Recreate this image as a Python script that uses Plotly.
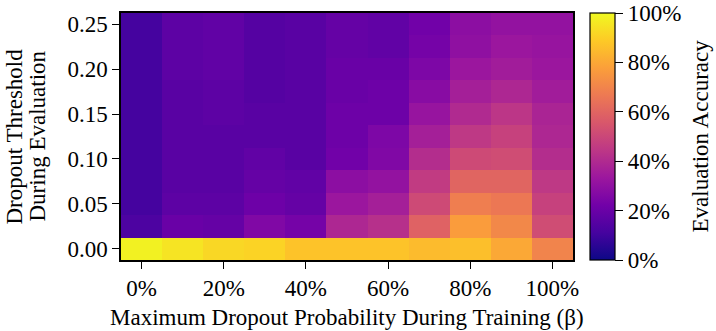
import plotly.graph_objects as go

# Maximum dropout probability used in training (x axis)
beta = [0.0, 0.1, 0.2, 0.3, 0.4, 0.5, 0.6, 0.7, 0.8, 0.9, 1.0]

# Dropout threshold applied at evaluation time (y axis)
threshold = [0.0, 0.025, 0.05, 0.075, 0.1, 0.125, 0.15, 0.175, 0.2, 0.225, 0.25]

# Evaluation accuracy, one row per threshold (bottom to top), one value per beta
acc_t000 = [0.98, 0.95, 0.92, 0.91, 0.87, 0.87, 0.87, 0.85, 0.86, 0.80, 0.70]
acc_t025 = [0.13, 0.20, 0.19, 0.26, 0.23, 0.39, 0.42, 0.59, 0.77, 0.71, 0.52]
acc_t050 = [0.11, 0.17, 0.17, 0.21, 0.19, 0.33, 0.36, 0.51, 0.68, 0.66, 0.48]
acc_t075 = [0.11, 0.16, 0.16, 0.19, 0.18, 0.29, 0.31, 0.46, 0.60, 0.60, 0.45]
acc_t100 = [0.11, 0.16, 0.16, 0.18, 0.16, 0.22, 0.26, 0.41, 0.51, 0.52, 0.41]
acc_t125 = [0.11, 0.16, 0.16, 0.16, 0.16, 0.21, 0.25, 0.36, 0.45, 0.48, 0.39]
acc_t150 = [0.11, 0.16, 0.17, 0.16, 0.16, 0.21, 0.21, 0.32, 0.40, 0.44, 0.38]
acc_t175 = [0.11, 0.16, 0.17, 0.15, 0.16, 0.20, 0.21, 0.28, 0.36, 0.39, 0.35]
acc_t200 = [0.11, 0.17, 0.18, 0.15, 0.16, 0.20, 0.20, 0.25, 0.33, 0.35, 0.33]
acc_t225 = [0.11, 0.17, 0.18, 0.15, 0.16, 0.19, 0.18, 0.23, 0.30, 0.33, 0.32]
acc_t250 = [0.11, 0.17, 0.18, 0.15, 0.16, 0.19, 0.18, 0.22, 0.29, 0.31, 0.31]

accuracy = [acc_t000, acc_t025, acc_t050, acc_t075, acc_t100, acc_t125,
            acc_t150, acc_t175, acc_t200, acc_t225, acc_t250]

x_ticks = [0.0, 0.2, 0.4, 0.6, 0.8, 1.0]
x_labels = ["0%", "20%", "40%", "60%", "80%", "100%"]
y_ticks = [0.0, 0.05, 0.10, 0.15, 0.20, 0.25]
y_labels = ["0.00", "0.05", "0.10", "0.15", "0.20", "0.25"]
cb_ticks = [0.0, 0.2, 0.4, 0.6, 0.8, 1.0]
cb_labels = ["0%", "20%", "40%", "60%", "80%", "100%"]

FONT = "Liberation Serif"
TXT = dict(family=FONT, size=23, color="black")
TICK = dict(family=FONT, size=23, color="black")

fig = go.Figure(
    go.Heatmap(
        x=beta,
        y=threshold,
        z=accuracy,
        zmin=0,
        zmax=1,
        colorscale="Plasma",
        colorbar=dict(
            x=1.0376,
            xanchor="left",
            xpad=0,
            y=0,
            yanchor="bottom",
            ypad=0,
            len=1,
            lenmode="fraction",
            thickness=25,
            outlinecolor="black",
            outlinewidth=1.2,
            tickvals=cb_ticks,
            ticktext=cb_labels,
            ticks="outside",
            ticklen=8,
            tickwidth=1.2,
            tickcolor="black",
            tickfont=TICK,
        ),
    )
)

axis_style = dict(
    ticks="outside",
    ticklen=7,
    tickwidth=1.2,
    tickcolor="black",
    tickfont=TICK,
    showline=True,
    linecolor="black",
    linewidth=1.5,
    mirror=True,
    showgrid=False,
    zeroline=False,
)

fig.update_layout(
    width=716,
    height=331,
    margin=dict(l=121, r=143, t=11, b=71),
    paper_bgcolor="white",
    plot_bgcolor="white",
    font=TXT,
    xaxis=dict(range=[-0.05, 1.05], tickvals=x_ticks, ticktext=x_labels,
               **axis_style),
    yaxis=dict(range=[-0.0125, 0.2625], tickvals=y_ticks, ticktext=y_labels,
               **axis_style),
)

# Axis and colorbar titles
titles = [
    dict(text="Maximum Dropout Probability During Training (β)",
         x=0.5, y=-0.233, textangle=0),
    dict(text="Dropout Threshold", x=-0.2367, y=0.5, textangle=-90),
    dict(text="During Evaluation", x=-0.1858, y=0.5, textangle=-90),
    dict(text="Evaluation Accuracy", x=1.281, y=0.5, textangle=-90),
]
for t in titles:
    fig.add_annotation(
        text=t["text"], x=t["x"], y=t["y"], xref="paper", yref="paper",
        xanchor="center", yanchor="middle", textangle=t["textangle"],
        showarrow=False, font=TXT,
    )

fig.write_html("out.html")
